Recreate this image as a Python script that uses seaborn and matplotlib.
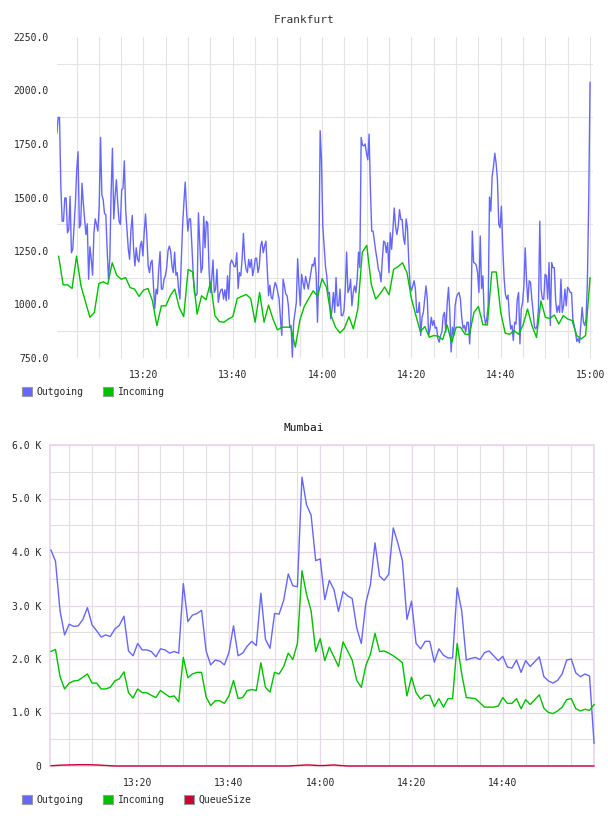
import numpy as np
import pandas as pd
import seaborn as sns
import matplotlib.pyplot as plt
import matplotlib.dates as mdates
from matplotlib.patches import Patch
from matplotlib.ticker import MultipleLocator, FuncFormatter

# ---- data ----
# Frankfurt outgoing, sampled roughly every 18 s from 13:00:36 to 15:00
fra_out = [
    1799, 1874, 1874, 1552, 1389, 1389, 1498, 1498, 1335, 1350,
    1505, 1242, 1258, 1366, 1474, 1629, 1714, 1358, 1374, 1567,
    1474, 1397, 1327, 1377, 1118, 1270, 1211, 1137, 1335, 1400,
    1374, 1343, 1459, 1781, 1513, 1490, 1425, 1420, 1258, 1118,
    1211, 1521, 1730, 1400, 1505, 1583, 1474, 1389, 1374, 1536,
    1544, 1671, 1443, 1350, 1258, 1211, 1350, 1416, 1258, 1180,
    1265, 1211, 1199, 1273, 1296, 1227, 1335, 1423, 1320, 1180,
    1149, 1196, 1207, 1087, 982, 1072, 1049, 1165, 1247, 1072,
    1072, 1118, 1134, 1172, 1250, 1273, 1250, 1180, 1149, 1245,
    1137, 1149, 1072, 1025, 1196, 1366, 1474, 1572, 1443, 1343,
    1400, 1400, 1281, 1149, 1056, 1041, 1049, 1428, 1289, 1149,
    1172, 1412, 1265, 1389, 1381, 1165, 1056, 1118, 1208, 1056,
    1072, 1165, 1010, 1049, 1069, 1072, 1025, 1069, 1018, 1134,
    1025, 1188, 1208, 1196, 1177, 1177, 1242, 1075, 1149, 1134,
    1211, 1332, 1211, 1165, 1149, 1211, 1172, 1211, 1134, 1168,
    1216, 1216, 1149, 1177, 1273, 1296, 1242, 1273, 1296, 1165,
    1041, 1090, 1033, 1025, 1072, 1103, 1087, 1056, 1025, 933,
    855, 1118, 1087, 1049, 1041, 994, 894, 902, 754, 917,
    963, 1010, 1214, 1087, 994, 1141, 1103, 1072, 1131, 1103,
    1072, 1111, 1149, 1188, 1180, 1219, 1134, 917, 1180, 1812,
    1676,
    1366, 1273, 1180, 1134, 1049, 1056, 933, 979, 1056, 963,
    1126, 994, 994, 1072, 948, 948, 971, 1072, 1245, 1056,
    1072, 1118, 994, 1056, 1087, 1056, 1118, 1245, 1172, 1781,
    1745, 1741, 1750, 1707, 1676, 1796, 1536, 1343, 1343, 1296,
    1250, 1211, 1165, 1149, 1106, 1211, 1296, 1289, 1242, 1289,
    1149, 1335, 1258, 1350, 1451, 1366, 1327, 1366, 1443, 1397,
    1397, 1312, 1281, 1400, 1358, 1196, 1087, 1064, 1087, 1111,
    1072, 963, 963, 1010, 855, 940, 963, 1025, 1087, 1025,
    855, 886, 940, 902, 925, 889, 894, 840, 824, 855,
    871, 948, 963, 871, 1002, 1080, 963, 778, 894, 855,
    994, 1033, 1049, 1056, 1025, 940, 889, 902, 871, 917,
    917, 816, 948, 1343, 1196, 1193, 1183, 1149, 1056, 1320,
    1075, 1134, 948, 909, 933, 994, 1502, 1436, 1598, 1645,
    1707, 1660, 1583, 1374, 1358, 1459, 1273, 1126, 1049, 1025,
    1044, 948, 886, 902, 832, 917, 909, 1025, 1056, 816,
    979, 1010, 1087, 1265, 1111, 1010, 1111, 1103, 1025, 963,
    894, 886, 902, 979, 1389, 1072, 1025, 1025, 1141, 1134,
    1025, 1196, 902, 1196, 1172, 1172, 1018, 963, 994, 963,
    1118, 963, 994, 1072, 994, 1080, 1072, 1056, 1056, 933,
    902, 871, 827, 840, 821, 902, 987, 917, 902, 933,
    1111, 1490, 2039,
]
# Frankfurt incoming, one value per minute 13:01 .. 15:00
fra_in = [
    1226, 1092, 1092, 1075, 1226, 1087, 1013, 940, 963, 1098,
    1106, 1095, 1195, 1137, 1118, 1126, 1079, 1072, 1038, 1067,
    1075, 1017, 901, 994, 994, 1041, 1072, 986, 943, 1164,
    1152, 955, 1041, 1022, 1103, 948, 920, 917, 932, 943,
    1028, 1038, 1047, 1028, 917, 1056, 917, 997, 932, 881,
    894, 894, 894, 801, 925, 991, 1028, 1064, 1038, 1121,
    1079, 948, 894, 867, 889, 943, 886, 979, 1245, 1276,
    1095, 1025, 1051, 1082, 1045, 1164, 1177, 1195, 1149, 1028,
    948, 873, 897, 847, 855, 852, 836, 904, 821, 894,
    894, 861, 861, 963, 991, 906, 904, 1152, 1152, 963,
    866, 861, 878, 861, 904, 979, 901, 846, 1017, 940,
    935, 951, 909, 948, 932, 925, 855, 839, 855, 1126,
]
# Mumbai, one value per minute 13:01 .. 15:00 (thousands)
mum_out_k = [
    4.04, 3.83, 2.90, 2.45, 2.65, 2.61, 2.62, 2.74, 2.96, 2.64,
    2.53, 2.41, 2.45, 2.42, 2.56, 2.63, 2.80, 2.15, 2.06, 2.29,
    2.17, 2.17, 2.14, 2.04, 2.19, 2.17, 2.11, 2.14, 2.11, 3.41,
    2.70, 2.82, 2.85, 2.91, 2.15, 1.89, 1.98, 1.96, 1.89, 2.12,
    2.62, 2.06, 2.11, 2.24, 2.33, 2.25, 3.23, 2.37, 2.20, 2.85,
    2.84, 3.10, 3.59, 3.37, 3.35, 5.40, 4.88, 4.69, 3.84, 3.87,
    3.11, 3.47, 3.30, 2.89, 3.26, 3.18, 3.13, 2.58, 2.29, 3.05,
    3.39, 4.17, 3.55, 3.47, 3.58, 4.45, 4.17, 3.84, 2.74, 3.08,
    2.29, 2.19, 2.33, 2.33, 1.94, 2.19, 2.07, 2.02, 2.02, 3.33,
    2.90, 1.98, 2.01, 2.03, 1.99, 2.12, 2.15, 2.06, 1.97, 2.05,
    1.85, 1.83, 1.98, 1.75, 1.97, 1.86, 1.95, 2.04, 1.67, 1.59,
    1.55, 1.60, 1.72, 1.98, 2.00, 1.74, 1.67, 1.72, 1.68, 0.42,
]
mum_in_k = [
    2.14, 2.18, 1.67, 1.44, 1.55, 1.59, 1.60, 1.66, 1.72, 1.55,
    1.55, 1.44, 1.44, 1.47, 1.59, 1.63, 1.76, 1.37, 1.27, 1.44,
    1.37, 1.37, 1.32, 1.28, 1.41, 1.35, 1.29, 1.31, 1.20, 2.03,
    1.65, 1.72, 1.75, 1.75, 1.29, 1.13, 1.22, 1.22, 1.17, 1.31,
    1.60, 1.26, 1.28, 1.41, 1.43, 1.41, 1.93, 1.47, 1.38, 1.75,
    1.72, 1.86, 2.11, 1.99, 2.29, 3.65, 3.21, 2.90, 2.14, 2.38,
    1.97, 2.22, 2.04, 1.86, 2.32, 2.15, 1.98, 1.60, 1.47, 1.88,
    2.09, 2.48, 2.14, 2.15, 2.11, 2.06, 2.00, 1.93, 1.31, 1.66,
    1.37, 1.25, 1.32, 1.32, 1.11, 1.26, 1.10, 1.26, 1.26, 2.29,
    1.72, 1.28, 1.27, 1.26, 1.18, 1.10, 1.10, 1.10, 1.12, 1.28,
    1.17, 1.17, 1.26, 1.07, 1.24, 1.15, 1.24, 1.33, 1.08, 1.00,
    0.98, 1.03, 1.10, 1.24, 1.26, 1.07, 1.03, 1.06, 1.04, 1.15,
]
mum_queue = [
    5, 10, 15, 18, 20, 22, 24, 25, 24, 22,
    20, 15, 10, 5, 0, 0, 0, 0, 0, 0,
    0, 0, 0, 0, 0, 0, 0, 0, 0, 0,
    0, 0, 0, 0, 0, 0, 0, 0, 0, 0,
    0, 0, 0, 0, 0, 0, 0, 0, 0, 0,
    0, 0, 0, 5, 10, 15, 20, 18, 12, 8,
    10, 15, 20, 12, 6, 0, 0, 0, 0, 0,
    0, 0, 0, 0, 0, 0, 0, 0, 0, 0,
    0, 0, 0, 0, 0, 0, 0, 0, 0, 0,
    0, 0, 0, 0, 0, 0, 0, 0, 0, 0,
    0, 0, 0, 0, 0, 0, 0, 0, 0, 0,
    0, 0, 0, 0, 0, 0, 0, 0, 0, 0,
]

day = '2024-01-01 '
minutes = pd.date_range(day + '13:01', periods=120, freq='min')
fra_out_t = pd.date_range(day + '13:00:36', day + '15:00:00', periods=len(fra_out))

colors = {'Outgoing': '#6666ff', 'Incoming': '#00c000', 'QueueSize': '#cc0033'}

fra = pd.concat([
    pd.DataFrame({'time': fra_out_t, 'value': fra_out, 'series': 'Outgoing'}),
    pd.DataFrame({'time': minutes, 'value': fra_in, 'series': 'Incoming'}),
])
mum = pd.concat([
    pd.DataFrame({'time': minutes, 'value': np.array(mum_out_k) * 1000, 'series': 'Outgoing'}),
    pd.DataFrame({'time': minutes, 'value': np.array(mum_in_k) * 1000, 'series': 'Incoming'}),
    pd.DataFrame({'time': minutes, 'value': mum_queue, 'series': 'QueueSize'}),
])

sns.set_style('white')
plt.rcParams['font.family'] = ['DejaVu Sans Mono']
plt.rcParams['font.size'] = 7

fig = plt.figure(figsize=(6.08, 8.16), dpi=100)
W, H = 608, 816


def px_axes(l, t, r, b):
    return fig.add_axes([l / W, 1 - b / H, (r - l) / W, (b - t) / H])


def legend(names, y):
    handles = [Patch(facecolor=colors[n], edgecolor='#999999', lw=0.8, label=n) for n in names]
    fig.legend(handles=handles, loc='center left', bbox_to_anchor=(22 / W, 1 - y / H),
               ncol=len(names), frameon=False, fontsize=7, handlelength=1.0,
               handleheight=1.0, handletextpad=0.5, columnspacing=2.0,
               borderpad=0, borderaxespad=0)


t0 = pd.Timestamp(day + '13:00')

# ---- Frankfurt ----
ax1 = px_axes(57, 37, 593, 358)
sns.lineplot(data=fra, x='time', y='value', hue='series', palette=colors,
             estimator=None, sort=False, lw=1.0, legend=False, ax=ax1)
ax1.set_xlim(t0 + pd.Timedelta(minutes=0.63), t0 + pd.Timedelta(minutes=120.66))
ax1.set_ylim(750, 2250)
ax1.yaxis.set_major_locator(MultipleLocator(250))
ax1.yaxis.set_minor_locator(MultipleLocator(250, offset=125))
ax1.yaxis.set_major_formatter(FuncFormatter(lambda v, p: f'{v:.1f}'))
ax1.xaxis.set_major_locator(mdates.MinuteLocator(byminute=[0, 20, 40]))
ax1.xaxis.set_minor_locator(mdates.MinuteLocator(byminute=range(0, 60, 5)))
ax1.xaxis.set_major_formatter(mdates.DateFormatter('%H:%M'))
ax1.grid(False)
ax1.grid(True, which='minor', axis='y', color='#e3e3e3', lw=0.8)
ax1.grid(True, which='both', axis='x', color='#e3e3e3', lw=0.8)
ax1.set_axisbelow(True)
for s in ax1.spines.values():
    s.set_visible(False)
ax1.tick_params(which='both', length=0)
ax1.tick_params(axis='y', pad=6)
ax1.tick_params(axis='x', pad=9)
ax1.set_xlabel('')
ax1.set_ylabel('')
fig.text(0.5, 1 - 20 / H, 'Frankfurt', ha='center', va='center', fontsize=8, color='#333333')
legend(['Outgoing', 'Incoming'], 392)

# ---- Mumbai ----
ax2 = px_axes(50, 445, 594, 766)
sns.lineplot(data=mum, x='time', y='value', hue='series', palette=colors,
             estimator=None, sort=False, lw=1.0, legend=False, ax=ax2)
for ln in ax2.lines:
    ln.set_zorder(3)
    ln.set_clip_on(False)
ax2.set_xlim(t0 + pd.Timedelta(minutes=0.8), t0 + pd.Timedelta(minutes=119.98))
ax2.set_ylim(0, 6000)
ax2.yaxis.set_major_locator(MultipleLocator(1000))
ax2.yaxis.set_minor_locator(MultipleLocator(500))
ax2.yaxis.set_major_formatter(FuncFormatter(lambda v, p: '0' if v == 0 else f'{v / 1000:.1f} K'))
ax2.xaxis.set_major_locator(mdates.MinuteLocator(byminute=[0, 20, 40]))
ax2.xaxis.set_minor_locator(mdates.MinuteLocator(byminute=range(0, 60, 5)))
ax2.xaxis.set_major_formatter(mdates.DateFormatter('%H:%M'))
ax2.grid(False)
ax2.grid(True, which='major', color='#ead6ea', lw=0.9)
ax2.grid(True, which='minor', color='#e2dfe2', lw=0.8)
ax2.set_axisbelow(True)
for s in ax2.spines.values():
    s.set_color('#ead6ea')
    s.set_linewidth(1.2)
ax2.tick_params(which='both', length=0)
ax2.tick_params(axis='y', pad=6)
ax2.tick_params(axis='x', pad=9)
ax2.set_xlabel('')
ax2.set_ylabel('')
fig.text(0.5, 1 - 428 / H, 'Mumbai', ha='center', va='center', fontsize=8, color='#111111')
legend(['Outgoing', 'Incoming', 'QueueSize'], 800)

fig.savefig('out.png', dpi=100, facecolor='white')
